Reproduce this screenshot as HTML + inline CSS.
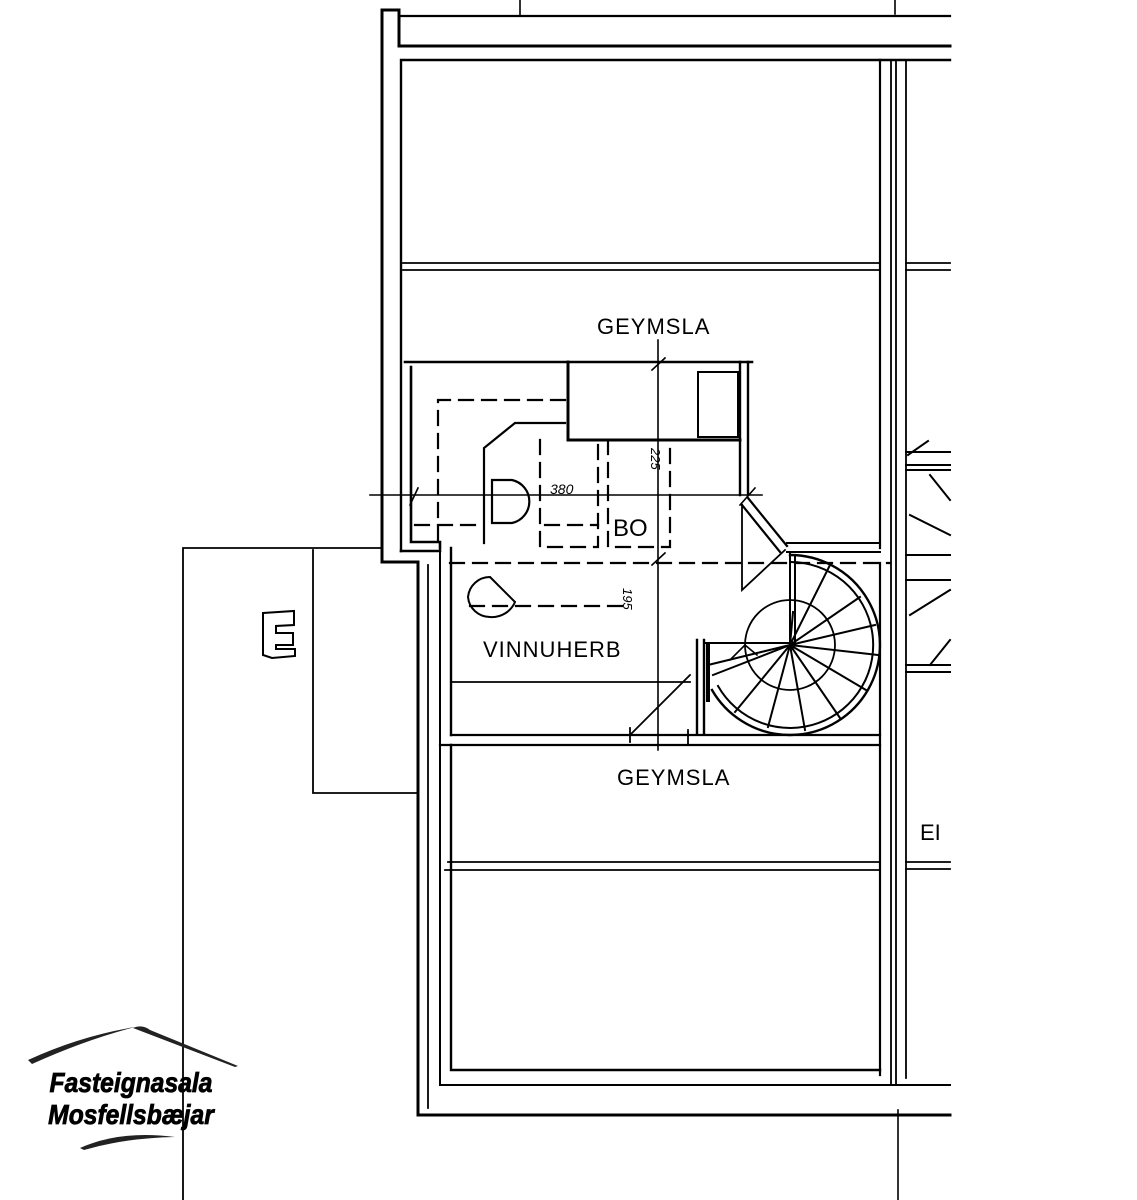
<!DOCTYPE html>
<html><head><meta charset="utf-8"><style>
html,body{margin:0;padding:0;background:#fff;}
svg{display:block;}
text{font-family:"Liberation Sans",sans-serif;fill:#000;}
</style></head><body>
<svg width="1137" height="1200" viewBox="0 0 1137 1200" xmlns="http://www.w3.org/2000/svg">
<g stroke="#000" fill="none" stroke-width="2.2" stroke-linecap="square">
<path d="M382 562 V10 H399 V46 H950" stroke-width="3"/>
<path d="M399 16 H950"/>
<path d="M520 0 V16 M895 0 V14" stroke-width="1.6"/>
<path d="M401 551 V60 H950" stroke-width="2.4"/>
<path d="M880 60 V548 M880 563 V1075" />
<path d="M891 60 V1085 M896 60 V1085 M906 60 V1078" stroke-width="1.8"/>
<path d="M898 1110 V1200" stroke-width="1.6"/>
<path d="M403 263 H880 M403 270 H880" stroke-width="1.8"/>
<path d="M906 263 H950 M906 270 H950" stroke-width="1.8"/>
<path d="M405 362 H752 M411 367 V542 H440 V548 M401 551 H440" stroke-width="2.6"/>
<path d="M382 562 H418 V1115 H950" stroke-width="3"/>
<path d="M428 565 V1108" stroke-width="1.8"/>
<path d="M440 548 V1085 H950" stroke-width="2"/>
<path d="M451 548 V735 M451 745 V1070 H880" stroke-width="2.4"/>
<path d="M448 862 H880 M445 870 H880" stroke-width="1.8"/>
<path d="M906 862 H950 M906 869 H950" stroke-width="1.8"/>
<path d="M568 362 V440 H740" stroke-width="3"/>
<rect x="698" y="372" width="40" height="65" stroke-width="2"/>
<path d="M740 362 V495 M748 362 V495" stroke-width="2.4"/>
<path d="M565 423 H515 L484 448 V543" stroke-width="2.2"/>
<g stroke-dasharray="14 9" stroke-width="2.2">
<path d="M565 400 H438 V542"/>
<path d="M540 440 V547 H598 V440"/>
<path d="M608 440 V547 H670 V440"/>
<path d="M415 525 H475"/>
<path d="M545 525 H598"/>
<path d="M450 563 H890"/>
<path d="M470 606 H625"/>
</g>
<path d="M492 480 H512 A22 22 0 0 1 512 523 H492 Z" stroke-width="2.2"/>
<path d="M370 495 H762" stroke-width="1.6"/>
<path d="M658 340 V750" stroke-width="1.6"/>
<path d="M410 505 L418 488 M652 370 L665 358 M652 565 L665 553 M740 505 L755 488" stroke-width="1.6"/>
<path d="M748 498 L787 546 M742 505 L780 552" stroke-width="2.2"/>
<path d="M742 505 V590 L785 550" stroke-width="1.8"/>
<path d="M787 543 H880 M787 552 H880" stroke-width="2"/>
<path d="M790 552 V645 M795 556 V645" stroke-width="2"/>
<path d="M790 555 A90 90 0 1 1 712 690" stroke-width="2.4"/>
<path d="M790 562 A83 83 0 1 1 718 686" stroke-width="2"/>
<circle cx="790" cy="645" r="45" stroke-width="1.8"/>
<g stroke-width="2">
<path d="M790 645 L830 565 M790 645 L860 597 M790 645 L875 625 M790 645 L878 655 M790 645 L866 690 M790 645 L840 718 M790 645 L805 730 M790 645 L768 727 M790 645 L735 712 M790 645 L713 675 M790 645 L708 665 M790 645 L793 612"/>
</g>
<path d="M704 643 H790" stroke-width="2"/>
<path d="M697 640 V733 M704 640 V733" stroke-width="2.4"/>
<path d="M708 645 V700" stroke-width="4"/>
<path d="M730 660 L745 645 L757 655" stroke-width="1.6"/>
<path d="M451 735 H880" stroke-width="2.2"/>
<path d="M440 745 H880" stroke-width="2.2"/>
<path d="M451 682 H690" stroke-width="1.8"/>
<path d="M630 735 L690 675 M630 728 V742 M688 730 V745" stroke-width="1.8"/>
<path d="M490 577 L515 602 A25 25 0 0 1 490 617 A22 22 0 0 1 468 597 A22 22 0 0 1 490 577 Z" stroke-width="2"/>
<g stroke-width="2">
<path d="M906 452 H950 M906 465 H950 M906 470 H950 M906 555 H950 M906 580 H950 M906 665 H950 M906 672 H950"/>
<path d="M930 475 L950 500 M910 515 L950 535 M910 615 L950 590 M930 665 L950 640 M908 455 L928 441"/>
</g>
<path d="M183 548 H380 M183 548 V1200 M313 550 V793 H418" stroke-width="1.8"/>
<path d="M263 613 L294 611 V625 L276 626 V633 L293 633 V645 L276 645 V649 L295 649 V656 L272 658 L263 655 Z" stroke-width="2"/>
<path d="M28 1060 Q80 1036 135 1027 Q85 1040 32 1064 Z" fill="#222" stroke="none"/>
<path d="M133 1028 Q142 1024 150 1030 L238 1066 L235 1067 Z" fill="#222" stroke="none"/>
<path d="M80 1148 Q120 1130 175 1137 Q125 1138 84 1150 Z" fill="#222" stroke="none"/>
</g>
<text x="597" y="334" font-size="22" letter-spacing="1">GEYMSLA</text>
<text x="617" y="785" font-size="22" letter-spacing="1">GEYMSLA</text>
<text x="483" y="657" font-size="22" letter-spacing="1">VINNUHERB</text>
<text x="613" y="536" font-size="24">BO</text>
<text x="550" y="494" font-size="14" font-style="italic">380</text>
<text x="0" y="0" font-size="13" font-style="italic" transform="translate(651 448) rotate(90)">225</text>
<text x="0" y="0" font-size="13" font-style="italic" transform="translate(623 588) rotate(90)">195</text>
<text x="920" y="840" font-size="22">EI</text>
<g transform="translate(131 0) scale(0.88 1) translate(-131 0)">
<text x="131" y="1092" font-size="28" font-weight="bold" font-style="italic" text-anchor="middle" stroke="#000" stroke-width="0.8">Fasteignasala</text>
<text x="131" y="1124" font-size="28" font-weight="bold" font-style="italic" text-anchor="middle" stroke="#000" stroke-width="0.8">Mosfellsbæjar</text>
</g>
</svg>
</body></html>
